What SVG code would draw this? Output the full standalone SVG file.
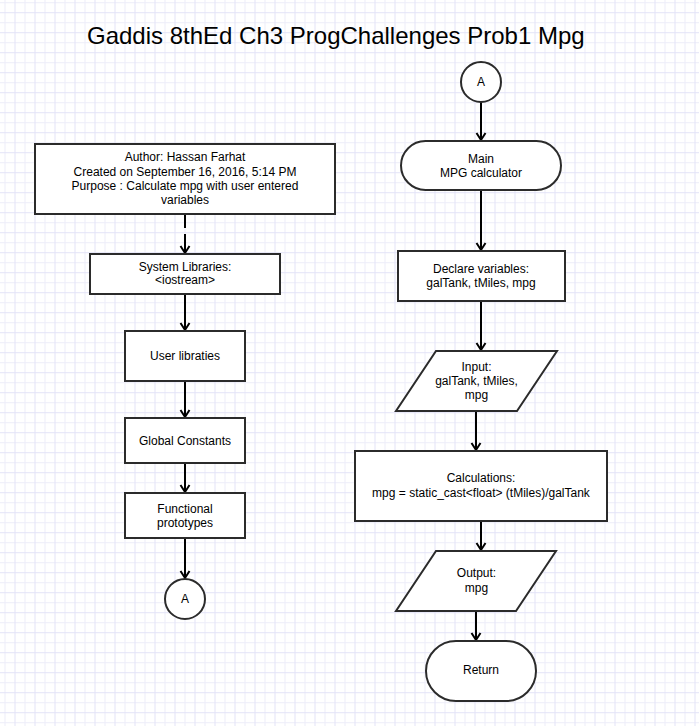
<svg xmlns="http://www.w3.org/2000/svg" width="699" height="726" viewBox="0 0 699 726">
<style>
.shape{fill:#ffffff;stroke:#2b2b2b;stroke-width:2}
.t{font-family:"Liberation Sans",Arial,sans-serif;font-size:12px;fill:#000;text-anchor:middle}
.title{font-family:"Liberation Sans",Arial,sans-serif;font-size:24px;fill:#000}
.c{fill:none;stroke:#000;stroke-width:2}
</style>
<defs>
<pattern id="grid" patternUnits="userSpaceOnUse" x="4.5" y="2.2" width="20" height="20">
<rect x="0" y="0" width="1" height="20" fill="#ededf9"/>
<rect x="0" y="0" width="20" height="1" fill="#ededf9"/>
<rect x="10" y="0" width="1" height="20" fill="#e3e3f7"/>
<rect x="0" y="10" width="20" height="1" fill="#e3e3f7"/>
</pattern>
<marker id="arr" markerUnits="userSpaceOnUse" markerWidth="14" markerHeight="14" viewBox="0 0 14 14" refX="12" refY="7" orient="auto">
<path d="M5,2.5 L12,7 L5,11.5" fill="none" stroke="#000" stroke-width="2"/>
</marker>
</defs>
<rect width="699" height="726" fill="#ffffff"/>
<rect width="699" height="726" fill="url(#grid)"/>
<text class="title" x="87" y="44">Gaddis 8thEd Ch3 ProgChallenges Prob1 Mpg</text>

<g id="connectors">
<line class="c" x1="185" y1="214" x2="185" y2="228"/>
<line class="c" x1="185" y1="234" x2="185" y2="253" marker-end="url(#arr)"/>
<line class="c" x1="185" y1="294" x2="185" y2="330" marker-end="url(#arr)"/>
<line class="c" x1="185" y1="381" x2="185" y2="417" marker-end="url(#arr)"/>
<line class="c" x1="185" y1="463" x2="185" y2="492" marker-end="url(#arr)"/>
<line class="c" x1="185" y1="538" x2="185" y2="578" marker-end="url(#arr)"/>
<line class="c" x1="481" y1="102" x2="481" y2="140" marker-end="url(#arr)"/>
<line class="c" x1="481" y1="190" x2="481" y2="250" marker-end="url(#arr)"/>
<line class="c" x1="481" y1="301" x2="481" y2="350" marker-end="url(#arr)"/>
<line class="c" x1="476" y1="411" x2="476" y2="450" marker-end="url(#arr)"/>
<line class="c" x1="481" y1="521" x2="481" y2="550" marker-end="url(#arr)"/>
<line class="c" x1="476" y1="611" x2="476" y2="640" marker-end="url(#arr)"/>
</g>

<g id="header">
<rect class="shape" x="35" y="144" width="300" height="70"/>
<text class="t" x="185" y="161">Author: Hassan Farhat</text>
<text class="t" x="185" y="175.5">Created on September 16, 2016, 5:14 PM</text>
<text class="t" x="185" y="190">Purpose : Calculate mpg with user entered</text>
<text class="t" x="185" y="204">variables</text>
</g>

<g id="syslib">
<rect class="shape" x="90" y="254" width="190" height="40"/>
<text class="t" x="185" y="270.5">System Libraries:</text>
<text class="t" x="185" y="284">&lt;iostream&gt;</text>
</g>

<g id="userlib">
<rect class="shape" x="125" y="331" width="120" height="50"/>
<text class="t" x="185" y="359.5">User libraties</text>
</g>

<g id="globals">
<rect class="shape" x="125" y="418" width="120" height="45"/>
<text class="t" x="185" y="444.5">Global Constants</text>
</g>

<g id="protos">
<rect class="shape" x="125" y="493" width="120" height="45"/>
<text class="t" x="185" y="512.5">Functional</text>
<text class="t" x="185" y="526.5">prototypes</text>
</g>

<g id="connA1">
<circle class="shape" cx="185" cy="599" r="20"/>
<text class="t" x="185" y="603">A</text>
</g>

<g id="connA2">
<circle class="shape" cx="481" cy="82" r="20"/>
<text class="t" x="481" y="86">A</text>
</g>

<g id="main">
<rect class="shape" x="401" y="141" width="160" height="49" rx="24.5" ry="24.5"/>
<text class="t" x="481" y="162.5">Main</text>
<text class="t" x="481" y="176.5">MPG calculator</text>
</g>

<g id="declare">
<rect class="shape" x="398" y="251" width="167" height="50"/>
<text class="t" x="481" y="273">Declare variables:</text>
<text class="t" x="481" y="286.5">galTank, tMiles, mpg</text>
</g>

<g id="input">
<polygon class="shape" points="436,351 557,351 517,411 396,411"/>
<text class="t" x="476.5" y="370.5">Input:</text>
<text class="t" x="476.5" y="385">galTank, tMiles,</text>
<text class="t" x="476.5" y="398.5">mpg</text>
</g>

<g id="calc">
<rect class="shape" x="355" y="451" width="252" height="70"/>
<text class="t" x="481" y="481.5">Calculations:</text>
<text class="t" x="481" y="496.5">mpg = static_cast&lt;float&gt; (tMiles)/galTank</text>
</g>

<g id="output">
<polygon class="shape" points="436,551 556,551 516,611 396,611"/>
<text class="t" x="476.5" y="576.5">Output:</text>
<text class="t" x="476.5" y="591.5">mpg</text>
</g>

<g id="return">
<rect class="shape" x="426" y="641" width="110" height="60" rx="30" ry="30"/>
<text class="t" x="481" y="674">Return</text>
</g>
</svg>
